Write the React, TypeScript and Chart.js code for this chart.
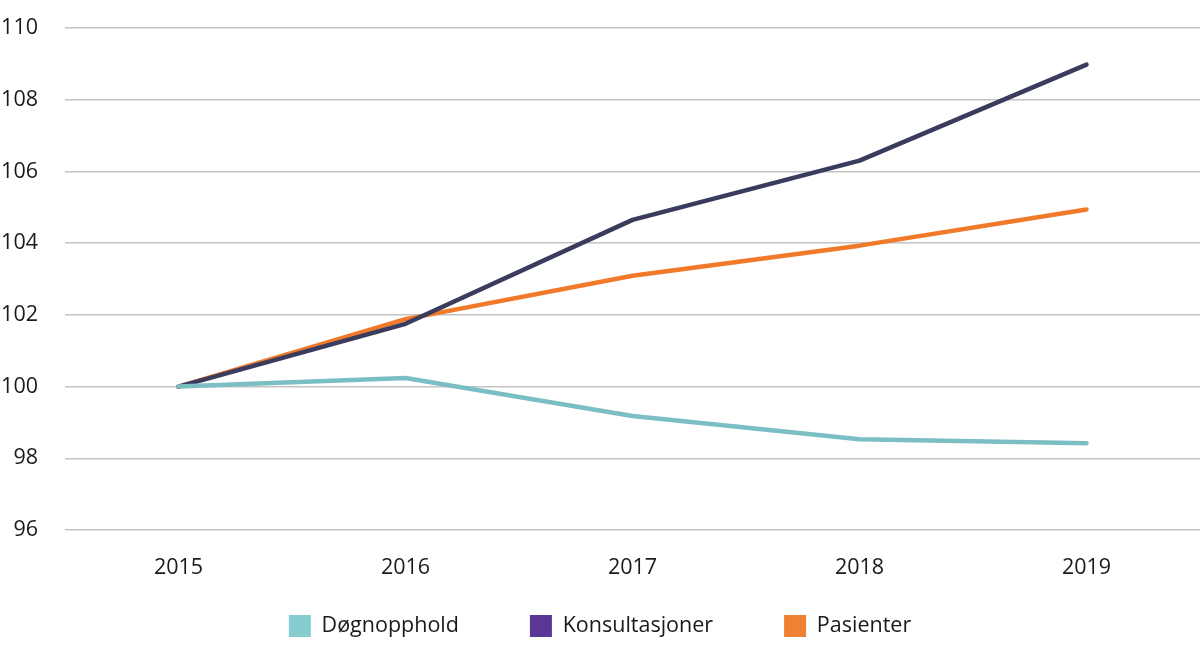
import React, { useEffect, useRef } from "react";
import { Chart, registerables } from "chart.js";

Chart.register(...registerables);

const years = ["2015", "2016", "2017", "2018", "2019"];
const dognopphold = [100, 100.24, 99.18, 98.53, 98.42];
const konsultasjoner = [100, 101.75, 104.65, 106.3, 108.98];
const pasienter = [100, 101.88, 103.09, 103.93, 104.94];
const seriesNames = ["Døgnopphold", "Konsultasjoner", "Pasienter"];
const lineColors = ["#7BBEC3", "#3A3C5E", "#F07A2A"];
const legendColors = ["#86CDD0", "#5A3696", "#EE8232"];

export default function App() {
  const ref = useRef<HTMLCanvasElement | null>(null);
  useEffect(() => {
    if (!ref.current) return;
    const font = { family: "'Open Sans', sans-serif", size: 21.5 };
    const seriesValues = [dognopphold, konsultasjoner, pasienter];
    const chart = new Chart(ref.current, {
      type: "line",
      data: {
        labels: years,
        datasets: seriesNames.map((name, i) => ({
          label: name,
          data: seriesValues[i],
          borderColor: lineColors[i],
          backgroundColor: legendColors[i],
          borderWidth: 4.5,
          pointRadius: 0,
          tension: 0,
          borderCapStyle: "round" as const,
          borderJoinStyle: "round" as const,
        })),
      },
      options: {
        animation: false,
        responsive: false,
        maintainAspectRatio: false,
        layout: { autoPadding: false, padding: { top: 28, right: 0, bottom: 8, left: 0 } },
        plugins: {
          tooltip: { enabled: false },
          legend: {
            position: "bottom",
            labels: {
              font,
              color: "#1a1a1a",
              boxWidth: 22,
              boxHeight: 22,
              padding: 71,
              generateLabels: (c: any) =>
                c.data.datasets.map((ds: any, i: number) => ({
                  text: ds.label,
                  fillStyle: legendColors[i],
                  strokeStyle: legendColors[i],
                  lineWidth: 0,
                  hidden: false,
                  datasetIndex: i,
                  fontColor: "#1a1a1a",
                })),
            },
          },
        },
        scales: {
          x: {
            offset: true,
            grid: { display: false, drawTicks: false },
            border: { display: false },
            ticks: { font, color: "#1a1a1a", mirror: true, padding: -51 },
            afterFit: (scale: any) => {
              scale.height = 14;
            },
          },
          y: {
            min: 96,
            max: 110,
            grid: { color: "#c4c4c4", lineWidth: 1.5, drawTicks: false },
            border: { display: false },
            ticks: { font, color: "#1a1a1a", stepSize: 2, padding: 27 },
            afterFit: (scale: any) => {
              scale.width = 65;
              scale.paddingTop = 0;
              scale.paddingBottom = 0;
            },
          },
        },
      },
    });
    return () => chart.destroy();
  }, []);
  return (
    <div style={{ position: "fixed", left: 0, top: 0, width: 1200, height: 655, background: "#fff" }}>
      <canvas ref={ref} width={1200} height={655} style={{ width: 1200, height: 655 }} />
    </div>
  );
}
